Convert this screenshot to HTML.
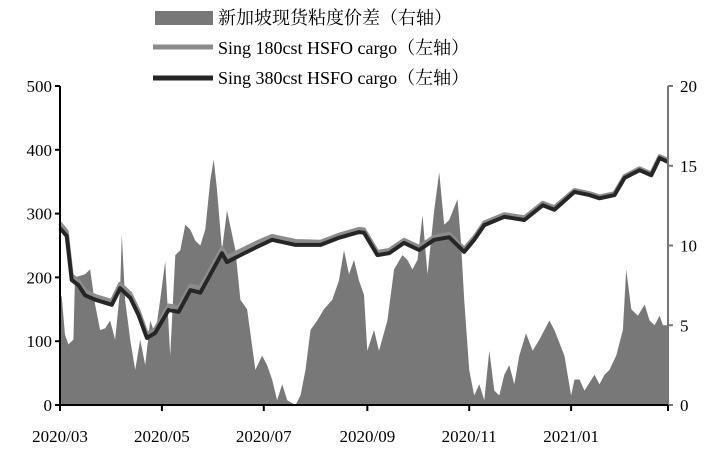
<!DOCTYPE html>
<html><head><meta charset="utf-8">
<style>body{margin:0;background:#fff}svg{display:block;font-family:"Liberation Serif","Noto Serif CJK SC",serif}</style></head>
<body>
<svg id="c" width="718" height="450" viewBox="0 0 718 450"></svg>
<script>
const leftTicks=[0,100,200,300,400,500];
const rightTicks=[0,5,10,15,20];
const monthLabels=["2020/03","2020/05","2020/07","2020/09","2020/11","2021/01"];
const monthDays=[0,61,122,184,245,306];
const spreadDays=[0,1,3,5,8,9,15,18,21,24,27,30,33,36,37,39,42,45,48,51,54,57,60,63,66,69,72,75,78,81,84,87,90,92,94,97,100,105,108,112,117,121,124,127,130,133,136,141,144,147,150,154,158,163,167,170,173,176,179,182,184,188,191,196,200,205,208,211,214,217,220,224,227,230,233,238,240,242,245,248,251,254,257,260,263,266,269,272,275,279,283,287,293,296,302,306,308,311,314,320,323,326,329,333,337,339,342,346,350,353,356,359,361,364];
const spreadVals=[6.9,6.8,4.4,3.8,4.1,8.0,8.2,8.5,6.3,4.7,4.8,5.3,4.1,7.2,10.7,6.6,4.1,2.2,4.1,2.5,5.3,4.4,6.6,9.0,3.1,9.4,9.7,11.3,11.0,10.3,10.0,11.0,14.1,15.4,13.5,9.7,12.2,9.7,6.6,6.0,2.2,3.1,2.5,1.6,0.3,1.3,0.3,0,0.6,2.2,4.7,5.3,6.0,6.6,7.8,9.7,8.2,9.1,7.8,6.9,3.4,4.7,3.4,5.3,8.5,9.4,9.1,8.5,9.1,11.9,8.2,12.2,14.6,11.3,11.6,12.9,10.3,6.6,2.2,0.6,1.3,0.3,3.4,0.9,0.6,1.9,2.5,1.3,3.1,4.5,3.4,4.1,5.3,4.7,3.1,0.6,1.6,1.6,0.9,1.9,1.3,1.9,2.2,3.1,4.7,8.5,6.0,5.6,6.3,5.3,5.0,5.6,5.0,5.0];
const lineDays=[0,4,7,11,15,21,31,36,42,47,52,57,65,71,78,84,97,100,108,118,127,141,156,167,179,182,190,197,206,215,224,233,242,248,254,266,278,289,296,308,317,323,332,338,347,354,359,364];
const hsfo380=[277,265,196,188,172,165,157,183,168,141,105,113,149,146,180,176,238,224,235,248,259,251,251,262,271,270,235,238,254,243,259,263,240,259,282,295,290,313,306,334,329,324,329,356,368,360,387,381];
const hsfo180=[285,272,203,195,179,171,163,190,175,148,111,119,156,153,187,184,246,232,242,255,265,257,256,267,276,275,240,243,259,248,264,268,245,263,286,299,294,317,310,337,332,327,332,359,371,363,390,384];
const NS="http://www.w3.org/2000/svg",svg=document.getElementById('c');
const X0=60,X1=668,Y0=405,Y1=86,D1=364;
const xs=d=>X0+d/D1*(X1-X0);
const yl=v=>Y0-v/500*(Y0-Y1);
const yr=v=>Y0-v/20*(Y0-Y1);
function mk(t,a,name){const e=document.createElementNS(NS,t);for(const k in a)e.setAttribute(k,a[k]);


svg.appendChild(e);return e;}
// area
let p=`M${xs(spreadDays[0])},${Y0}`;spreadDays.forEach((d,i)=>p+=`L${xs(d).toFixed(1)},${yr(spreadVals[i]).toFixed(1)}`);p+=`L${xs(spreadDays[spreadDays.length-1])},${Y0}Z`;
mk('path',{d:p,fill:'#787878'},'spread-area');
function line(vals,col,w,name){let s='';lineDays.forEach((d,i)=>s+=(i?'L':'M')+xs(d).toFixed(1)+','+yl(vals[i]).toFixed(1));mk('path',{d:s,fill:'none',stroke:col,'stroke-width':w,'stroke-linejoin':'round'},name);}
line(hsfo180,'#8c8c8c',4,'line-180cst');
line(hsfo380,'#262626',4,'line-380cst');
// axes
mk('line',{x1:X0,y1:Y1,x2:X0,y2:Y0,stroke:'#000','stroke-width':2},'left-axis');
mk('line',{x1:X1,y1:Y1,x2:X1,y2:Y0,stroke:'#777','stroke-width':2},'right-axis');
mk('line',{x1:X0,y1:Y0,x2:X1,y2:Y0,stroke:'#000','stroke-width':2},'x-axis');
leftTicks.forEach(v=>{mk('line',{x1:X0-5,x2:X0,y1:yl(v),y2:yl(v),stroke:'#000','stroke-width':2},'left-tick');
const t=mk('text',{x:X0-8,y:yl(v)+6,'text-anchor':'end','font-size':17},'left-tick-label');t.textContent=v;});
rightTicks.forEach(v=>{mk('line',{x1:X1,x2:X1+5,y1:yr(v),y2:yr(v),stroke:'#777','stroke-width':2},'right-tick');
const t=mk('text',{x:X1+12,y:yr(v)+6,'font-size':17},'right-tick-label');t.textContent=v;});
monthDays.forEach((d,i)=>{mk('line',{x1:xs(d),x2:xs(d),y1:Y0,y2:Y0+6,stroke:'#000','stroke-width':2},'x-tick');
const t=mk('text',{x:xs(d),y:442,'text-anchor':'middle','font-size':17},'x-tick-label');t.textContent=monthLabels[i];});
mk('line',{x1:X1,x2:X1,y1:Y0,y2:Y0+6,stroke:'#000','stroke-width':2},'x-tick');
// legend
mk('rect',{x:155,y:11,width:58,height:14,fill:'#787878'},'legend-swatch-spread');
mk('line',{x1:153,x2:213,y1:47,y2:47,stroke:'#8c8c8c','stroke-width':5},'legend-swatch-180');
mk('line',{x1:153,x2:213,y1:78,y2:78,stroke:'#262626','stroke-width':5},'legend-swatch-380');
[["新加坡现货粘度价差（右轴）",24],["Sing 180cst HSFO cargo（左轴）",54],["Sing 380cst HSFO cargo（左轴）",84]].forEach(([s,y])=>{const t=mk('text',{x:218,y:y,'font-size':18},'legend-entry');t.textContent=s;});
</script>
</body></html>
